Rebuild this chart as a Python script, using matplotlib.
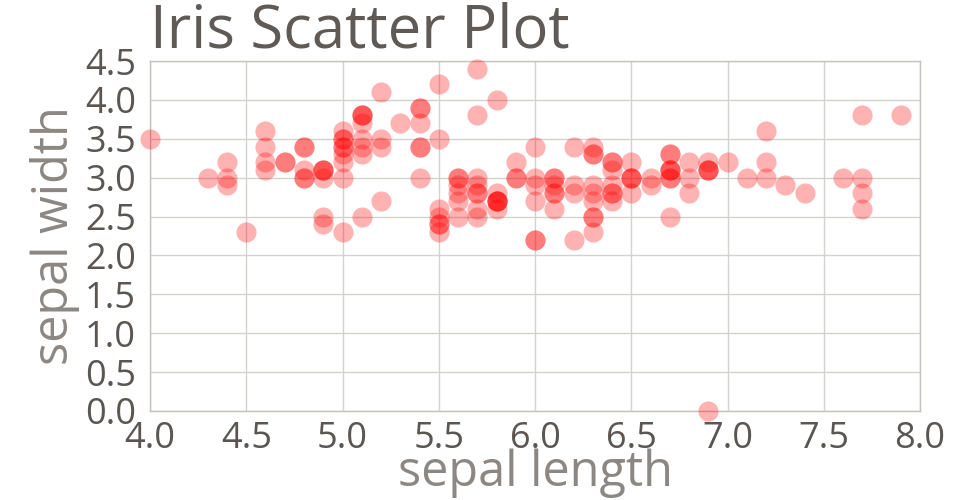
import matplotlib
matplotlib.use('Agg')
import matplotlib.pyplot as plt

sepal_length = [
    4.0, 4.9, 4.7, 4.6, 5.0, 5.4, 4.6, 5.0, 4.4, 4.9,
    5.4, 4.8, 4.8, 4.3, 5.8, 5.7, 5.4, 5.1, 5.7, 5.1,
    5.4, 5.1, 4.6, 5.1, 4.8, 5.0, 5.0, 5.2, 5.2, 4.7,
    4.8, 5.4, 5.2, 5.5, 4.9, 5.0, 5.5, 4.9, 4.4, 5.1,
    5.0, 4.5, 4.4, 5.0, 5.1, 4.8, 5.1, 4.6, 5.3, 5.0,
    7.0, 6.4, 6.9, 5.5, 6.5, 5.7, 6.3, 4.9, 6.6, 5.2,
    6.9, 5.9, 6.0, 6.1, 5.6, 6.7, 5.6, 5.8, 6.2, 5.6,
    5.9, 6.1, 6.3, 6.1, 6.4, 6.6, 6.8, 6.7, 6.0, 5.7,
    5.5, 5.5, 5.8, 6.0, 5.4, 6.0, 6.7, 6.3, 5.6, 5.5,
    5.5, 6.1, 5.8, 5.0, 5.6, 5.7, 5.7, 6.2, 5.1, 5.7,
    6.3, 5.8, 7.1, 6.3, 6.5, 7.6, 4.9, 7.3, 6.7, 7.2,
    6.5, 6.4, 6.8, 5.7, 5.8, 6.4, 6.5, 7.7, 7.7, 6.0,
    6.9, 5.6, 7.7, 6.3, 6.7, 7.2, 6.2, 6.1, 6.4, 7.2,
    7.4, 7.9, 6.4, 6.3, 6.1, 7.7, 6.3, 6.4, 6.0, 6.9,
    6.7, 6.9, 5.8, 6.8, 6.7, 6.7, 6.3, 6.5, 6.2, 5.9,
]
sepal_width = [
    3.5, 3.0, 3.2, 3.1, 3.6, 3.9, 3.4, 3.4, 2.9, 3.1,
    3.7, 3.4, 3.0, 3.0, 4.0, 4.4, 3.9, 3.5, 3.8, 3.8,
    3.4, 3.7, 3.6, 3.3, 3.4, 3.0, 3.4, 3.5, 3.4, 3.2,
    3.1, 3.4, 4.1, 4.2, 3.1, 3.2, 3.5, 3.1, 3.0, 3.4,
    3.5, 2.3, 3.2, 3.5, 3.8, 3.0, 3.8, 3.2, 3.7, 3.3,
    3.2, 3.2, 3.1, 2.3, 2.8, 2.8, 3.3, 2.4, 2.9, 2.7,
    0.0, 3.0, 2.2, 2.9, 2.9, 3.1, 3.0, 2.7, 2.2, 2.5,
    3.2, 2.8, 2.5, 2.8, 2.9, 3.0, 2.8, 3.0, 2.9, 2.6,
    2.4, 2.4, 2.7, 2.7, 3.0, 3.4, 3.1, 2.3, 3.0, 2.5,
    2.6, 3.0, 2.6, 2.3, 2.7, 3.0, 2.9, 2.9, 2.5, 2.8,
    3.3, 2.7, 3.0, 2.9, 3.0, 3.0, 2.5, 2.9, 2.5, 3.6,
    3.2, 2.7, 3.0, 2.5, 2.8, 3.2, 3.0, 3.8, 2.6, 2.2,
    3.2, 2.8, 2.8, 2.7, 3.3, 3.2, 2.8, 3.0, 2.8, 3.0,
    2.8, 3.8, 2.8, 2.8, 2.6, 3.0, 3.4, 3.1, 3.0, 3.1,
    3.1, 3.1, 2.7, 3.2, 3.3, 3.0, 2.5, 3.0, 3.4, 3.0,
]

x_ticks = [4.0, 4.5, 5.0, 5.5, 6.0, 6.5, 7.0, 7.5, 8.0]
y_ticks = [0.0, 0.5, 1.0, 1.5, 2.0, 2.5, 3.0, 3.5, 4.0, 4.5]

plt.rcParams['font.family'] = ['Open Sans', 'DejaVu Sans']

fig = plt.figure(figsize=(9.6, 5), dpi=100)
ax = fig.add_axes([150 / 960, 89 / 500, 770 / 960, 350 / 500])

ax.scatter(sepal_length, sepal_width, s=210, color='red', alpha=0.3,
           linewidths=0, zorder=3, clip_on=False)

ax.set_xlim(4.0, 8.0)
ax.set_ylim(0.0, 4.5)
ax.set_xticks(x_ticks)
ax.set_yticks(y_ticks)
ax.set_xticklabels([f'{v:.1f}' for v in x_ticks])
ax.set_yticklabels([f'{v:.1f}' for v in y_ticks])
ax.tick_params(length=0, labelsize=26, labelcolor='#5b5651', pad=7)
ax.tick_params(axis='y', pad=10)

ax.grid(True, color='#d4d2cf', linewidth=1)
ax.set_axisbelow(True)
for sp in ax.spines.values():
    sp.set_color('#c4c2bd')
    sp.set_linewidth(1)

ax.set_xlabel('sepal length', fontsize=35, color='#8c8783', labelpad=-6)
ax.set_ylabel('sepal width', fontsize=35, color='#8c8783', labelpad=4)
ax.set_title('Iris Scatter Plot', fontsize=43, color='#5f5a55', loc='left', pad=-2)

fig.savefig('out.png', dpi=100)
